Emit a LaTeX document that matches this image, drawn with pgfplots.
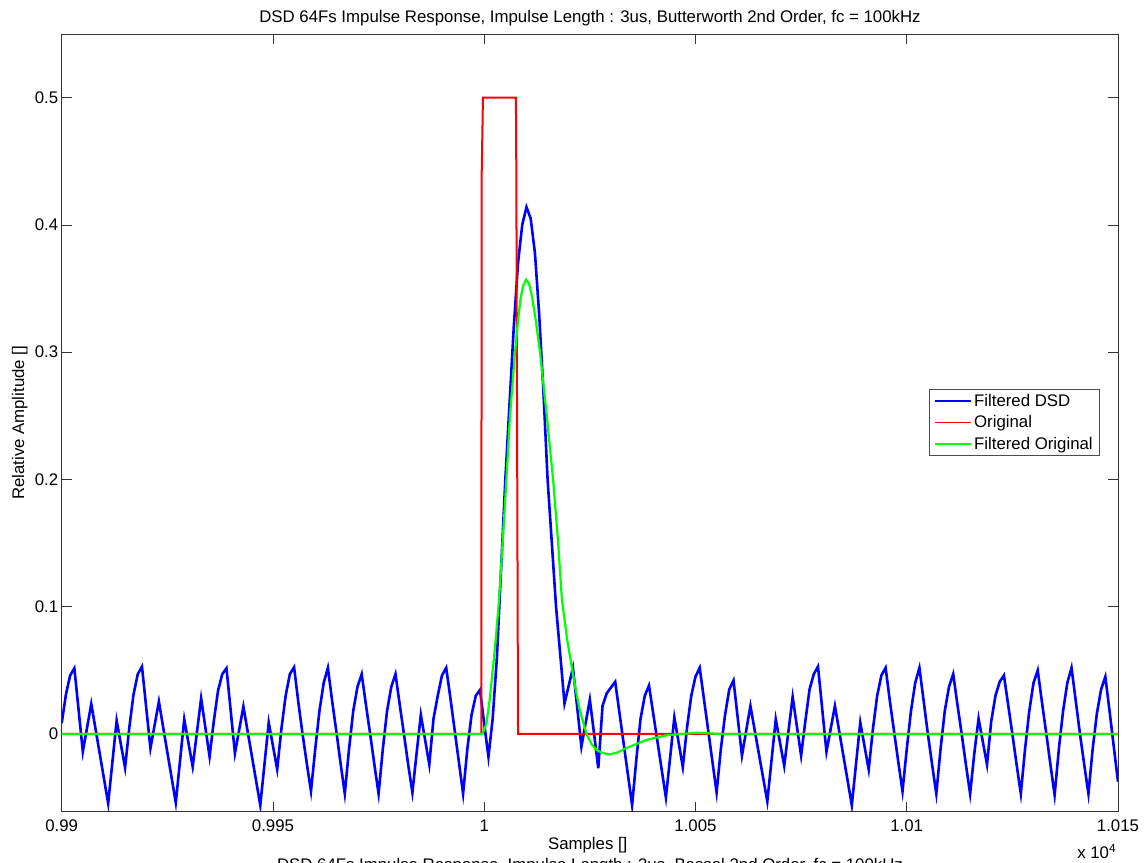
\documentclass[border=0pt]{standalone}
\usepackage{pgfplots}
\pgfplotsset{compat=1.18}
\usepackage{fontspec}
\setmainfont{Liberation Sans}

\begin{document}
\begin{tikzpicture}[font=\fontsize{16.8bp}{20bp}\selectfont]
\useasboundingbox (0,0) rectangle (1148bp,863bp);
\begin{axis}[
  at={(61.7bp,51.3bp)}, anchor=south west,
  scale only axis, width=1056.3bp, height=777.7bp,
  xmin=9900, xmax=10150, ymin=-0.0611, ymax=0.55,
  scaled x ticks=false, scaled y ticks=false,
  xtick={9900,9950,10000,10050,10100,10150},
  xticklabels={0.99,0.995,1,1.005,1.01,1.015},
  ytick={0,0.1,0.2,0.3,0.4,0.5},
  yticklabels={0,0.1,0.2,0.3,0.4,0.5},
  xticklabel style={anchor=base, yshift=-19.5bp},
  tick align=inside, major tick length=10bp,
  axis line style={black!80, line width=0.6bp},
  every tick/.style={black!80, line width=0.6bp},
  xlabel={Samples []},
  ylabel={Relative Amplitude []},
  xlabel style={at={(axis description cs:0.498,-0.0424)}, anchor=center},
  ylabel style={at={(axis description cs:-0.0398,0.5)}, anchor=center},
  legend cell align=left,
  legend image code/.code={\draw[#1, line width=1.8bp] (0bp,0bp) -- (36bp,0bp);},
  legend style={at={(axis description cs:0.983,0.5437)}, anchor=north east,
    draw=black!70, line width=0.6bp, fill=white, row sep=3.8bp,
    nodes={inner sep=2bp}, inner xsep=5bp, inner ysep=3bp},
]
\addplot[line width=2.6bp, color={rgb,1:red,0;green,0;blue,1}] coordinates {
(9900,0.0084)(9901,0.031)(9902,0.046)(9903,0.0516)(9905,-0.0139)(9907,0.0236)
(9911,-0.0546)(9913,0.0105)(9915,-0.0265)(9916,0.005)(9917,0.031)(9918,0.047)
(9919,0.0529)(9921,-0.0113)(9923,0.0254)(9927,-0.054)(9929,0.0115)(9931,-0.0257)
(9933,0.028)(9935,-0.0178)(9936,0.010)(9937,0.034)(9938,0.047)(9939,0.0516)
(9941,-0.0152)(9943,0.0215)(9947,-0.056)(9949,0.0089)(9951,-0.0278)(9952,0.004)
(9953,0.030)(9954,0.047)(9955,0.0524)
(9956,0.025)(9957,0.0)(9958,-0.023)(9959,-0.045)(9960,-0.012)(9961,0.018)
(9962,0.040)(9963,0.052)(9964,0.026)(9965,0.002)(9966,-0.023)(9967,-0.047)
(9968,-0.012)(9969,0.018)(9970,0.037)(9971,0.047)(9972,0.023)(9973,0.0)
(9974,-0.024)(9975,-0.047)(9976,-0.012)(9977,0.018)(9978,0.037)(9979,0.047)
(9980,0.023)(9981,0.0)(9982,-0.024)(9983,-0.046)(9984,-0.015)(9985,0.015)
(9987,-0.024)(9988,0.012)(9989,0.030)(9990,0.046)(9991,0.052)(9992,0.028)
(9993,0.003)(9994,-0.022)(9995,-0.047)(9996,-0.012)(9997,0.015)(9998,0.030)
(9999,0.0346)(10000,0.008)(10001,-0.018)
(10002,0.012)(10003,0.06)(10004,0.13)(10005,0.2)(10006,0.26)(10007,0.32)
(10008,0.37)(10009,0.40)(10010,0.414)(10011,0.405)(10012,0.378)(10013,0.33)
(10014,0.27)(10015,0.2)(10016,0.15)(10017,0.10)(10019,0.024)(10021,0.052)
(10023,-0.01)(10025,0.027)(10027,-0.027)(10028,0.022)(10029,0.032)(10031,0.041)
(10035,-0.056)(10036,-0.02)(10037,0.012)(10038,0.03)(10039,0.038)(10043,-0.050)
(10045,0.013)(10047,-0.026)(10048,0.005)(10049,0.030)(10050,0.045)(10051,0.052)
(10055,-0.046)(10056,-0.012)(10057,0.015)(10058,0.035)(10059,0.042)
(10061,-0.017)(10063,0.022)(10067,-0.053)(10069,0.0115)(10071,-0.025)
(10073,0.029)(10075,-0.017)(10076,0.010)(10077,0.035)(10078,0.047)(10079,0.053)
(10081,-0.014)(10083,0.022)(10087,-0.056)(10089,0.009)(10091,-0.028)
(10092,0.004)(10093,0.030)(10094,0.046)(10095,0.052)
(10096,0.026)(10097,0.002)(10098,-0.022)(10099,-0.045)(10100,-0.012)
(10101,0.018)(10102,0.040)(10103,0.052)(10104,0.026)(10105,0.0)(10106,-0.024)
(10107,-0.047)(10108,-0.012)(10109,0.018)(10110,0.037)(10111,0.047)
(10112,0.023)(10113,0.0)(10114,-0.024)(10115,-0.047)(10116,-0.015)
(10117,0.012)(10119,-0.024)(10120,0.010)(10121,0.030)(10122,0.041)
(10123,0.046)(10124,0.023)(10125,0.0)(10126,-0.024)(10127,-0.047)
(10128,-0.012)(10129,0.018)(10130,0.040)(10131,0.050)(10132,0.025)
(10133,0.001)(10134,-0.024)(10135,-0.048)(10136,-0.012)(10137,0.018)
(10138,0.040)(10139,0.052)(10140,0.026)(10141,0.0)(10142,-0.024)
(10143,-0.047)(10144,-0.012)(10145,0.016)(10146,0.035)(10147,0.045)
(10148,0.018)(10149,-0.010)(10150,-0.0375)
};
\addlegendentry{Filtered DSD}
\addplot[line width=2bp, color={rgb,1:red,1;green,0;blue,0}] coordinates {
(9900,0)(9999.3,0)(9999.4,0.44)(9999.7,0.5)(10007.5,0.5)(10007.6,0.44)
(10008.0,0)(10150,0)
};
\addlegendentry{Original}
\addplot[line width=2.2bp, color={rgb,1:red,0;green,1;blue,0}] coordinates {
(9900,0)(9999.6,0)(10000.5,0.008)(10001.3,0.027)(10002.5,0.066)(10003.5,0.105)
(10004.9,0.18)(10006.1,0.25)(10007.3,0.30)(10008.0,0.325)(10008.6,0.342)
(10009.2,0.352)(10009.9,0.357)(10010.6,0.354)(10011.3,0.344)(10012.2,0.325)
(10013.2,0.30)(10014.8,0.25)(10016.3,0.20)(10017.5,0.15)(10018.4,0.105)
(10019.6,0.075)(10020.7,0.053)(10021.7,0.034)(10022.6,0.019)(10024.2,0)
(10025.4,-0.008)(10026.6,-0.0126)(10028.0,-0.015)(10029.7,-0.016)
(10031.6,-0.0145)(10033.7,-0.011)(10038.4,-0.0047)(10043.2,-0.001)
(10050.3,0.001)(10055.8,0)(10150,0)
};
\addlegendentry{Filtered Original}
\end{axis}
\node[anchor=base] at (590bp,840.3bp)
  {DSD 64Fs Impulse Response, Impulse Length : 3us, Butterworth 2nd Order, fc = 100kHz};
\node at (1096.7bp,11.3bp) {x 10\textsuperscript{4}};
\node[anchor=base] at (590bp,-7bp)
  {DSD 64Fs Impulse Response, Impulse Length : 3us, Bessel 2nd Order, fc = 100kHz};
\end{tikzpicture}
\end{document}
